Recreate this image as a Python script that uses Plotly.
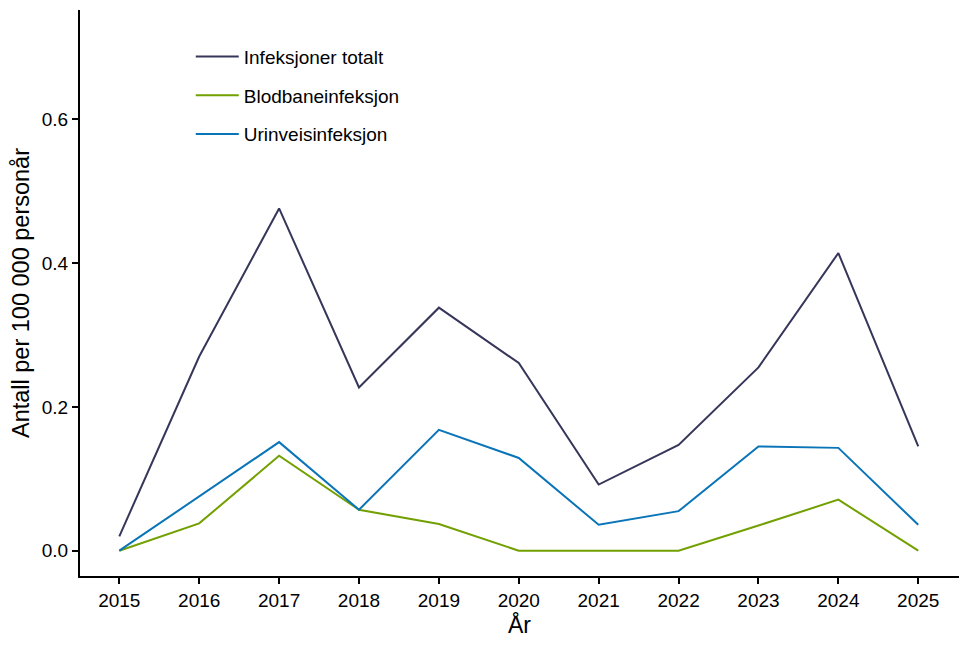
import plotly.graph_objects as go

years = [2015, 2016, 2017, 2018, 2019, 2020, 2021, 2022, 2023, 2024, 2025]

totalt = [0.020, 0.270, 0.476, 0.227, 0.338, 0.261, 0.092, 0.147, 0.255, 0.414, 0.145]
blodbane = [0.0, 0.038, 0.132, 0.057, 0.037, 0.0, 0.0, 0.0, 0.035, 0.071, 0.0]
urinvei = [0.0, 0.076, 0.151, 0.057, 0.168, 0.129, 0.036, 0.055, 0.145, 0.143, 0.036]

series = [
    ("Infeksjoner totalt", totalt, "#36365A"),
    ("Blodbaneinfeksjon", blodbane, "#72A000"),
    ("Urinveisinfeksjon", urinvei, "#0A74B8"),
]

fig = go.Figure()
for i, (name, vals, col) in enumerate(series):
    fig.add_trace(go.Scatter(x=years, y=vals, mode="lines", name=name,
                             legendgroup=str(i),
                             line=dict(color=col, width=2)))

# page has an 8px body margin, so margins are shifted to compensate
fig.update_layout(
    width=970, height=647,
    margin=dict(l=72, r=19, t=2, b=79),
    plot_bgcolor="white", paper_bgcolor="white",
    font=dict(family="Liberation Sans, Arial", size=19, color="black"),
    legend=dict(x=0.126, y=0.951, xanchor="left", yanchor="top",
                font=dict(size=19), tracegroupgap=11, itemwidth=43,
                bgcolor="rgba(0,0,0,0)"),
    showlegend=True,
)
fig.update_xaxes(range=[2014.508, 2025.51], tickvals=years, ticks="outside",
                 ticklen=6, tickwidth=1.5, tickcolor="black",
                 showline=True, linecolor="black", linewidth=2,
                 showgrid=False, zeroline=False, automargin=False,
                 title=dict(text="År", font=dict(size=23), standoff=4))
fig.update_yaxes(range=[-0.0352, 0.752], tickvals=[0, 0.2, 0.4, 0.6],
                 tickformat=".1f", ticks="outside", ticklen=6, tickwidth=1.5,
                 tickcolor="black", showline=True, linecolor="black", linewidth=2,
                 showgrid=False, zeroline=False, automargin=False,
                 title=dict(text="Antall per 100 000 personår", font=dict(size=23.5), standoff=6))

fig.write_html("out.html")
